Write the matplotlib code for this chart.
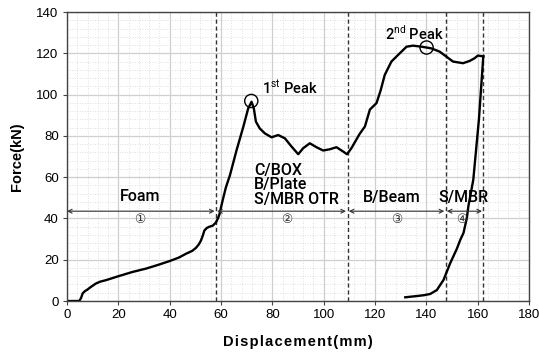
import numpy as np
import matplotlib
matplotlib.use('Agg')
import matplotlib.pyplot as plt
from matplotlib.ticker import MultipleLocator

# loading curve (displacement mm, force kN)
load_x = [0, 4.8, 5.5, 6.1, 7.0, 7.7, 9.4, 11.3, 13.0, 15.2, 20, 25.6, 30.8, 35.5, 40.1, 43.5,
          46.4, 48.8, 50.3, 51.4, 52.2, 53.0, 53.5, 54.5, 55.5, 56.8, 58, 58.8, 59.4,
          60.6, 61.9, 63.5, 66.1, 68.7, 70.6, 71.9, 72.8, 73.6, 75.1, 77.1, 79.7,
          82.3, 84.9, 87.5, 90.1, 92.0, 94.6, 97.2, 99.8, 102.4, 105.0, 107.6, 109.1,
          110.8, 114.0, 116.1, 118.0, 120.6, 122.2, 123.8, 126.4, 129.0, 132.3, 134.8,
          138.1, 141.9, 145.2, 147.8, 150.4, 154.3, 156.9, 158.8, 160.1, 162.2]
load_y = [0, 0, 1.5, 3.7, 4.8, 5.3, 6.9, 8.5, 9.4, 10.1, 12, 14.1, 15.7, 17.5, 19.4, 21.0,
          22.9, 24.3, 25.8, 27.5, 29.3, 32.0, 34.1, 35.4, 36.0, 36.5, 38, 40.0, 42,
          48.5, 55, 61.0, 73.2, 84.4, 93.3, 96.5, 93.3, 86.9, 83.6, 81.2, 79.3,
          80.4, 78.8, 74.8, 71.1, 74.0, 76.4, 74.5, 72.9, 73.5, 74.5, 72.4, 71.1,
          74.0, 80.9, 84.6, 92.7, 95.9, 102.0, 109.5, 116.0, 119.2, 123.2, 123.7,
          123.2, 122.4, 120.8, 118.4, 116.0, 115.2, 116.3, 117.6, 118.9, 118.5]
# unloading curve
unload_x = [162.2, 160.5, 158.3, 156.4, 155.8, 154.5, 153.2, 151.9, 149.3, 146.7, 144.1,
            141.5, 139.0, 136.3, 131.8]
unload_y = [118.5, 88.0, 58.7, 46.0, 40.3, 33.0, 29.5, 25.3, 18.3, 10.2, 5.3,
            3.4, 2.8, 2.4, 1.8]

boundaries = [58, 109.3, 147.5, 162.2]
arrow_y = 43.5
arrow_spans = [(0, 57.5), (58.5, 108.7), (109.8, 147), (148, 161.7)]
region_nums = ['①', '②', '③', '④']
region_num_x = [28.5, 85.7, 128.4, 154]
peaks_x = [71.8, 140.1]
peaks_y = [96.9, 122.8]

narrow = ['Roboto', 'DejaVu Sans']
plt.rcParams['font.family'] = ['Liberation Sans', 'DejaVu Sans']
plt.rcParams['mathtext.fontset'] = 'custom'
plt.rcParams['mathtext.rm'] = 'Roboto'

fig = plt.figure(figsize=(5.39, 3.53), dpi=100)
ax = fig.add_axes([0.1243, 0.1473, 0.9814 - 0.1243, 0.966 - 0.1473])

ax.set_xlim(0, 180)
ax.set_ylim(0, 140)
ax.xaxis.set_major_locator(MultipleLocator(20))
ax.yaxis.set_major_locator(MultipleLocator(20))
ax.xaxis.set_minor_locator(MultipleLocator(4))
ax.yaxis.set_minor_locator(MultipleLocator(4))
ax.grid(which='major', color='#cfcfcf', lw=0.9)
ax.grid(which='minor', color='#d5d5d5', lw=0.6, ls=(0, (1, 2)))
ax.set_axisbelow(True)
ax.tick_params(which='minor', length=0)
ax.tick_params(which='major', length=3, width=0.8, color='#444444', labelsize=9.5, pad=3)
for s in ax.spines.values():
    s.set_color('#444444')
    s.set_linewidth(1.0)

for b in boundaries:
    ax.axvline(b, color='#333333', lw=1.0, ls=(0, (3, 2)))

ax.plot(load_x, load_y, color='black', lw=1.7, solid_joinstyle='round')
ax.plot(unload_x, unload_y, color='black', lw=1.7, solid_joinstyle='round')
ax.scatter(peaks_x, peaks_y, s=90, facecolors='none', edgecolors='black', lw=1.0, zorder=5)

for (a, b), n, nx in zip(arrow_spans, region_nums, region_num_x):
    ax.annotate('', xy=(b, arrow_y), xytext=(a, arrow_y),
                arrowprops=dict(arrowstyle='<->', color='#333333', lw=0.8,
                                shrinkA=0, shrinkB=0, mutation_scale=7))
    ax.text(nx, arrow_y - 4.2, n, ha='center', va='center', fontsize=9,
            family=['DejaVu Sans'], color='#333333')

ax.text(28.5, 50.5, 'Foam', ha='center', va='center', fontsize=11.5, family=narrow, weight='medium')
ax.text(73.0, 56.3, 'C/BOX\nB/Plate\nS/MBR OTR', ha='left', va='center', fontsize=11.5,
        family=narrow, weight='medium', linespacing=0.98)
ax.text(126.5, 50.3, 'B/Beam', ha='center', va='center', fontsize=11.5, family=narrow, weight='medium')
ax.text(154.5, 50.3, 'S/MBR', ha='center', va='center', fontsize=11.5, family=narrow, weight='medium')
ax.text(76, 103, '1$^{\\rm st}$ Peak', ha='left', va='center', fontsize=10.5, family=narrow, weight='medium')
ax.text(135.5, 129.8, '2$^{\\rm nd}$ Peak', ha='center', va='center', fontsize=10.5, family=narrow, weight='medium')

ax.set_xlabel('\u200a'.join('Displacement(mm)'), fontsize=10.5,
              fontweight='bold', labelpad=10)
ax.set_ylabel('Force(kN)', fontsize=10.5, fontweight='bold', labelpad=9)

fig.savefig('out.png', dpi=100)
